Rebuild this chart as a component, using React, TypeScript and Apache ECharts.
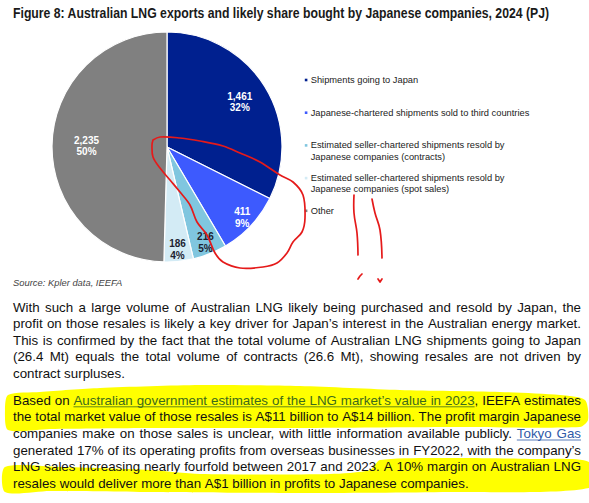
import React, { useEffect, useRef } from "react";
import * as echarts from "echarts";

// ---------- data ----------
const categories = [
  "Shipments going to Japan",
  "Japanese-chartered shipments sold to third countries",
  "Estimated seller-chartered shipments resold by\nJapanese companies (contracts)",
  "Estimated seller-chartered shipments resold by\nJapanese companies (spot sales)",
  "Other",
];
const valuesPJ = [1461, 411, 216, 186, 2235];
const sliceColors = ["#00208f", "#3d5afe", "#80c6df", "#d3ebf5", "#808080"];
const labelColors = ["#ffffff", "#ffffff", "#1c2230", "#1c2230", "#ffffff"];

const titleText =
  "Figure 8: Australian LNG exports and likely share bought by Japanese companies, 2024 (PJ)";
const sourceText = "Source: Kpler data, IEEFA";

// {...} marks link text
const paragraph1 = [
  "With such a large volume of Australian LNG likely being purchased and resold by Japan, the",
  "profit on those resales is likely a key driver for Japan\u2019s interest in the Australian energy market.",
  "This is confirmed by the fact that the total volume of Australian LNG shipments going to Japan",
  "(26.4 Mt) equals the total volume of contracts (26.6 Mt), showing resales are not driven by",
  "contract surpluses.",
];
const paragraph2 = [
  "Based on {Australian government estimates of the LNG market\u2019s value in 2023}, IEEFA estimates",
  "the total market value of those resales is A$11 billion to A$14 billion. The profit margin Japanese",
  "companies make on those sales is unclear, with little information available publicly. {Tokyo Gas}",
  "generated 17% of its operating profits from overseas businesses in FY2022, with the company\u2019s",
  "LNG sales increasing nearly fourfold between 2017 and 2023. A 10% margin on Australian LNG",
  "resales would deliver more than A$1 billion in profits to Japanese companies.",
];
const highlightedLinkLines = [true, false, false, false, false, false];

// hand-drawn annotations (page pixels)
const redLoop = [
  [153, 140], [160, 137], [180, 138], [200, 141], [223, 146], [240, 153], [260, 162],
  [280, 175], [293, 182], [303, 195], [305, 218], [302, 232], [293, 242], [287, 253],
  [277, 263], [263, 267], [240, 268], [223, 262], [215, 253], [207, 235], [197, 222],
  [190, 205], [180, 192], [170, 180], [160, 168], [153, 157], [152, 145], [153, 140],
];
const redSquiggleA = [[354, 195], [354, 213], [357, 233], [358, 255]];
const redSquiggleB = [[372, 199], [375, 213], [380, 230], [382, 258]];
const redTick = [[358, 279], [360, 276], [362, 274]];
const redCheck = [[378, 279], [380, 282], [382, 279]];
const highlight1 = [
  [8, 395], [40, 392], [100, 388], [200, 385], [300, 386], [400, 390], [500, 392],
  [560, 395], [585, 400], [588, 420], [580, 427], [450, 427], [300, 428], [150, 428],
  [50, 429], [8, 430], [5, 410],
];
const highlight2 = [
  [5, 467], [60, 467], [150, 470], [200, 474], [330, 474], [370, 470], [380, 460],
  [450, 458], [530, 459], [589, 462], [589, 488], [450, 492], [300, 493], [150, 492],
  [50, 491], [5, 492],
];

// ---------- layout helpers ----------
const BODY_FONT = '"Liberation Sans", Arial, sans-serif';
const TEXT_LEFT = 13;
const TEXT_RIGHT = 581;

let measureCtx: CanvasRenderingContext2D | null = null;
function measure(text: string, size: number): number {
  if (!measureCtx) measureCtx = document.createElement("canvas").getContext("2d");
  measureCtx!.font = `${size}px ${BODY_FONT}`;
  return measureCtx!.measureText(text).width;
}

type Run = { text: string; link: boolean };
function parseWords(line: string): Run[][] {
  const words: Run[][] = [];
  let inLink = false;
  for (const raw of line.split(" ")) {
    const runs: Run[] = [];
    let cur = "";
    for (const ch of raw) {
      if (ch === "{" || ch === "}") {
        if (cur) runs.push({ text: cur, link: inLink });
        cur = "";
        inLink = ch === "{";
      } else cur += ch;
    }
    if (cur) runs.push({ text: cur, link: inLink });
    words.push(runs);
  }
  return words;
}

function stripMarks(s: string) {
  return s.replace(/[{}]/g, "");
}

// body font size chosen so the widest justified line sets with ordinary word spacing
function bodySize(): number {
  const base = 12.5;
  const justified = [
    ...paragraph1.slice(0, paragraph1.length - 1),
    ...paragraph2.slice(0, paragraph2.length - 1),
  ];
  const widest = Math.max(...justified.map((l) => measure(stripMarks(l), base)));
  return Math.min(14, base * (TEXT_RIGHT - TEXT_LEFT) / widest);
}

function layoutLine(
  line: string,
  y: number,
  justify: boolean,
  linkColor: string,
  size: number
): any[] {
  const out: any[] = [];
  const words = parseWords(line);
  const widths = words.map((w) => w.reduce((s, r) => s + measure(r.text, size), 0));
  const total = widths.reduce((a, b) => a + b, 0);
  const natural = measure(" ", size);
  const gap =
    justify && words.length > 1 ? (TEXT_RIGHT - TEXT_LEFT - total) / (words.length - 1) : natural;
  let x = TEXT_LEFT;
  let linkStart: number | null = null;
  let linkEnd = 0;
  words.forEach((w, wi) => {
    let rx = x;
    w.forEach((r) => {
      const rw = measure(r.text, size);
      out.push({
        type: "text",
        x: rx,
        y,
        z: 10,
        style: {
          text: r.text,
          fill: r.link ? linkColor : "#111111",
          fontSize: size,
          fontFamily: BODY_FONT,
          textAlign: "left",
          align: "left",
          textVerticalAlign: "middle",
          verticalAlign: "middle",
        },
      });
      if (r.link) {
        if (linkStart === null) linkStart = rx;
        linkEnd = rx + rw;
      } else if (linkStart !== null) {
        out.push(underline(linkStart, linkEnd, y, linkColor));
        linkStart = null;
      }
      rx += rw;
    });
    x += widths[wi] + gap;
  });
  if (linkStart !== null) out.push(underline(linkStart, linkEnd, y, linkColor));
  return out;
}
function underline(x1: number, x2: number, y: number, color: string) {
  return {
    type: "line",
    z: 10,
    shape: { x1, y1: y + 6.5, x2, y2: y + 6.5 },
    style: { stroke: color, lineWidth: 0.8 },
  };
}

function redStroke(points: number[][], smooth = 0.4) {
  return {
    type: "polyline",
    z: 20,
    shape: { points, smooth },
    style: { stroke: "#e51a1a", lineWidth: 1.7, fill: null, lineCap: "round", lineJoin: "round" },
  };
}

function buildGraphic(): any[] {
  const els: any[] = [];
  const size = bodySize();
  // highlights underneath text
  [highlight1, highlight2].forEach((pts) =>
    els.push({
      type: "polygon",
      z: 1,
      shape: { points: pts, smooth: 0.25 },
      style: { fill: "#ffff00" },
    })
  );
  // title
  els.push({
    type: "text",
    x: 13,
    y: 13,
    scaleX: 0.875,
    z: 10,
    style: {
      text: titleText,
      fill: "#1a1a1a",
      fontSize: 14,
      fontWeight: "bold",
      fontFamily: BODY_FONT,
      textVerticalAlign: "middle",
      verticalAlign: "middle",
    },
  });
  // legend
  categories.forEach((name, i) => {
    const y0 = 80 + i * 32.7;
    els.push({
      type: "rect",
      z: 10,
      shape: { x: 304.8, y: y0 - 1.3, width: 2.6, height: 2.6 },
      style: { fill: sliceColors[i] },
    });
    name.split("\n").forEach((ln, k) => {
      els.push({
        type: "text",
        x: 310.7,
        y: y0 + k * 11.2,
        z: 10,
        style: {
          text: ln,
          fill: "#222222",
          fontSize: 9.3,
          fontFamily: BODY_FONT,
          textVerticalAlign: "middle",
          verticalAlign: "middle",
        },
      });
    });
  });
  // source
  els.push({
    type: "text",
    x: 13,
    y: 282.5,
    z: 10,
    style: {
      text: sourceText,
      fill: "#444444",
      fontSize: 9.4,
      fontStyle: "italic",
      fontFamily: BODY_FONT,
      textVerticalAlign: "middle",
      verticalAlign: "middle",
    },
  });
  // paragraphs
  paragraph1.forEach((ln, i) =>
    els.push(...layoutLine(ln, 307.2 + i * 16.5, i < paragraph1.length - 1, "#2f5aa8", size))
  );
  paragraph2.forEach((ln, i) =>
    els.push(
      ...layoutLine(
        ln,
        400.3 + i * 16.6,
        i < paragraph2.length - 1,
        highlightedLinkLines[i] ? "#3b6a1c" : "#2f5aa8",
        size
      )
    )
  );
  // red annotations
  els.push(redStroke(redLoop, 0.35));
  els.push(redStroke(redSquiggleA));
  els.push(redStroke(redSquiggleB));
  els.push(redStroke(redTick, 0));
  els.push(redStroke(redCheck, 0));
  return els;
}

const PIE_CENTER = [167, 147];
const PIE_R = 115;

function labelSeries(radius: number[], show: number[]) {
  return {
    type: "pie",
    center: PIE_CENTER,
    radius,
    startAngle: 90,
    clockwise: true,
    silent: true,
    percentPrecision: 0,
    emphasis: { disabled: true },
    itemStyle: { color: "rgba(0,0,0,0)", borderWidth: 0 },
    labelLine: { show: false },
    label: { show: false },
    z: 5,
    data: categories.map((name, i) => ({
      name,
      value: valuesPJ[i],
      label: {
        show: show.includes(i),
        position: "inside",
        color: labelColors[i],
        fontSize: 10,
        fontWeight: "bold",
        fontFamily: BODY_FONT,
        lineHeight: 11.5,
        align: "center",
        formatter: (p: any) => `${Number(p.value).toLocaleString("en-US")}\n${p.percent}%`,
      },
    })),
  };
}

export default function App() {
  const ref = useRef<HTMLDivElement>(null);
  useEffect(() => {
    if (!ref.current) return;
    const chart = echarts.init(ref.current, undefined, { renderer: "svg" });
    chart.setOption({
      animation: false,
      backgroundColor: "#ffffff",
      series: [
        {
          type: "pie",
          center: PIE_CENTER,
          radius: [0, PIE_R],
          startAngle: 90,
          clockwise: true,
          silent: true,
          percentPrecision: 0,
          emphasis: { disabled: true },
          label: { show: false },
          labelLine: { show: false },
          itemStyle: { borderColor: "#ffffff", borderWidth: 1.2 },
          z: 2,
          data: categories.map((name, i) => ({
            name,
            value: valuesPJ[i],
            itemStyle: { color: sliceColors[i] },
          })),
        },
        labelSeries([50, PIE_R], [0]),
        labelSeries([40, PIE_R], [4]),
        labelSeries([85, PIE_R], [1, 2, 3]),
      ],
      graphic: { elements: buildGraphic() },
    });
    return () => chart.dispose();
  }, []);
  return (
    <div
      ref={ref}
      style={{ position: "fixed", left: 0, top: 0, width: 589, height: 503, background: "#fff" }}
    />
  );
}
